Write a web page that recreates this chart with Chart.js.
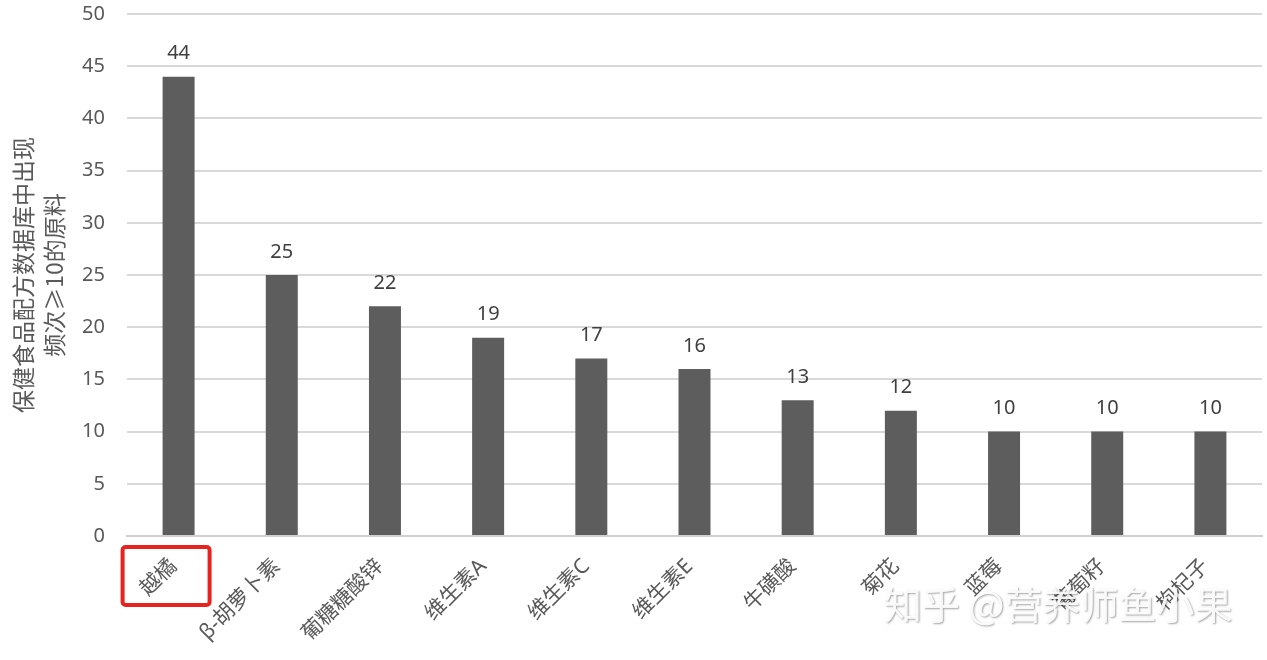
<!DOCTYPE html>
<html>
<head>
<meta charset="utf-8">
<script src="https://cdn.jsdelivr.net/npm/chart.js@4"></script>
<style>
  html, body { margin: 0; padding: 0; background: #fff; }
  #wrap { width: 1267px; height: 660px; }
</style>
</head>
<body>
<div id="wrap"><canvas id="myChart"></canvas></div>
<script>
// categories and values
const ingredients = ['越橘', 'β-胡萝卜素', '葡糖糖酸锌', '维生素A', '维生素C', '维生素E', '牛磺酸', '菊花', '蓝莓', '葡萄籽', '枸杞子'];
const counts = [44, 25, 22, 19, 17, 16, 13, 12, 10, 10, 10];
const yTicks = [0, 5, 10, 15, 20, 25, 30, 35, 40, 45, 50];
const yTitle = ['保健食品配方数据库中出现', '频次≥10的原料'];

const fontFamily = '"Noto Sans", "Noto Sans CJK SC", sans-serif';

// numbers above bars + the red box and the watermark
const extras = {
    id: 'extras',
    afterDatasetsDraw(chart) {
        const c = chart.ctx;
        const meta = chart.getDatasetMeta(0);
        c.save();
        c.font = '20px ' + fontFamily;
        c.fillStyle = '#404040';
        c.textAlign = 'center';
        c.textBaseline = 'bottom';
        meta.data.forEach(function (bar, i) {
            c.fillText(counts[i], bar.x, bar.y - 13);
        });
        c.restore();
    },
    afterDraw(chart) {
        const c = chart.ctx;
        // red highlight box round the first label
        const x0 = chart.scales.x.getPixelForValue(0);
        c.save();
        c.strokeStyle = '#e8231f';
        c.lineWidth = 4;
        c.beginPath();
        c.roundRect(x0 - 56, 547, 87, 58, 3);
        c.stroke();
        c.restore();

        // watermark
        c.save();
        c.font = '38px "Noto Sans CJK SC", sans-serif';
        c.textAlign = 'left';
        c.textBaseline = 'middle';
        c.shadowColor = 'rgba(0,0,0,0.4)';
        c.shadowBlur = 2;
        c.shadowOffsetX = 1;
        c.shadowOffsetY = 1;
        c.fillStyle = 'rgba(255,255,255,0.9)';
        c.fillText('知乎 @营养师鱼小果', 884, 605);
        c.restore();
    }
};

var ctx = document.getElementById('myChart').getContext('2d');
var myChart = new Chart(ctx, {
    type: 'bar',
    data: {
        labels: ingredients,
        datasets: [{
            label: '频次',
            backgroundColor: '#5d5d5d',
            categoryPercentage: 1,
            barPercentage: 0.31,
            data: counts
        }]
    },
    options: {
        responsive: true,
        maintainAspectRatio: false,
        animation: false,
        layout: {
            padding: { top: 0, right: 5, left: 0, bottom: 0 }
        },
        plugins: {
            legend: { display: false },
            tooltip: { enabled: false }
        },
        scales: {
            x: {
                grid: { display: false, drawTicks: false },
                border: { color: '#d0d0d0', width: 2 },
                ticks: {
                    color: '#595959',
                    font: { family: fontFamily, size: 21 },
                    minRotation: 45,
                    maxRotation: 45,
                    padding: 18,
                    labelOffset: -5
                },
                afterFit: function (scale) {
                    scale.height = 124;
                    scale.paddingLeft = 0;
                    scale.paddingRight = 0;
                }
            },
            y: {
                min: 0,
                max: 50,
                afterBuildTicks: function (scale) {
                    scale.ticks = yTicks.map(function (v) { return { value: v }; });
                },
                grid: { color: '#d9d9d9', lineWidth: 2, drawTicks: false },
                border: { display: false },
                ticks: {
                    color: '#595959',
                    font: { family: fontFamily, size: 20 },
                    padding: 22
                },
                title: {
                    display: true,
                    text: yTitle,
                    color: '#595959',
                    font: { family: '"Noto Sans CJK SC", sans-serif', size: 23, lineHeight: 1.35 },
                    padding: { top: 8, bottom: 0 }
                },
                afterFit: function (scale) {
                    scale.width = 127;
                    scale.paddingTop = 14;
                    scale.paddingBottom = 0;
                }
            }
        }
    },
    plugins: [extras]
});
</script>
</body>
</html>
